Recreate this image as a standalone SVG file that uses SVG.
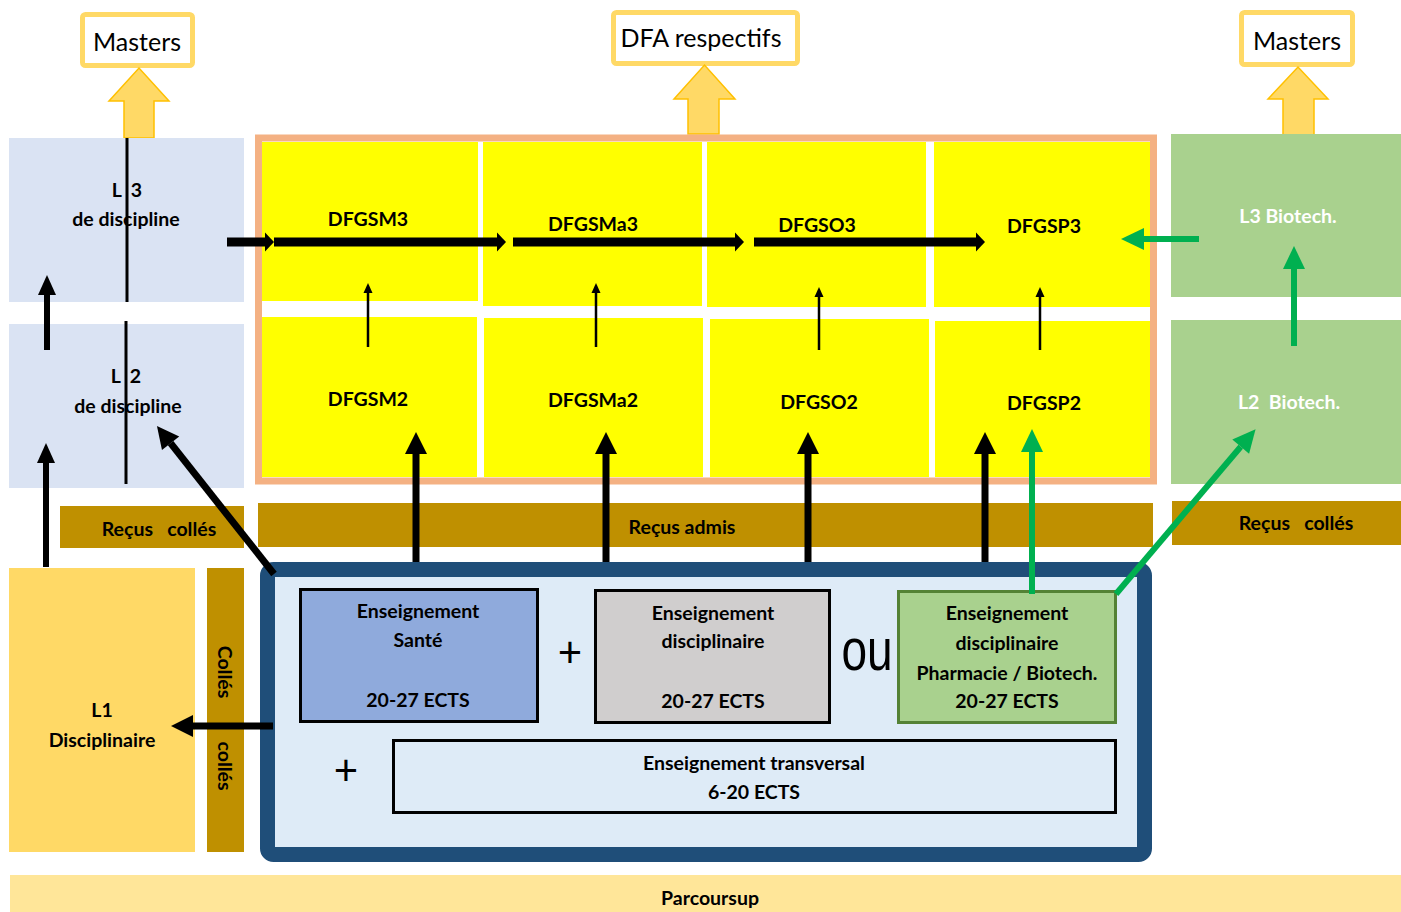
<svg xmlns="http://www.w3.org/2000/svg" width="1401" height="912" viewBox="0 0 1401 912">
<style>
text{font-family:Lato,"Liberation Sans",sans-serif;fill:#000;text-anchor:middle}
.b{font-weight:bold;font-size:19.5px}
.r{font-size:25px}
.w{fill:#fff}
.pre{white-space:pre}
.lb{fill:#DAE3F3}
.rc{fill:#BF9000}
.yl{fill:#FFFF00}
.gb{fill:#A9D18E}
.ms{fill:#fff;stroke:#FFD966;stroke-width:5}
.ya{fill:#FFD966;stroke:#FFC000;stroke-width:1.5}
.k{stroke:#000;fill:none}
.g{stroke:#00B050;fill:none}
</style>
<defs>
<marker id="mBig" markerUnits="userSpaceOnUse" markerWidth="22" markerHeight="22" refX="0" refY="11" orient="auto" overflow="visible"><path d="M0,0 L22,11 L0,22 z" fill="#000"/></marker>
<marker id="mBigG" markerUnits="userSpaceOnUse" markerWidth="23" markerHeight="22" refX="0" refY="11" orient="auto" overflow="visible"><path d="M0,0 L23,11 L0,22 z" fill="#00B050"/></marker>
<marker id="mMid" markerUnits="userSpaceOnUse" markerWidth="9" markerHeight="19" refX="0" refY="9.5" orient="auto" overflow="visible"><path d="M0,0 L9,9.5 L0,19 z" fill="#000"/></marker>
<marker id="mThin" markerUnits="userSpaceOnUse" markerWidth="10" markerHeight="9" refX="0" refY="4.5" orient="auto" overflow="visible"><path d="M0,0 L10,4.5 L0,9 z" fill="#000"/></marker>
<marker id="mSm" markerUnits="userSpaceOnUse" markerWidth="20" markerHeight="18" refX="0" refY="9" orient="auto" overflow="visible"><path d="M0,0 L20,9 L0,18 z" fill="#000"/></marker>
</defs>

<g id="parcoursup"><rect x="10" y="875" width="1391" height="37" fill="#FFE699"/><text class="b" x="710" y="905">Parcoursup</text></g>

<g id="masters-left"><rect class="ms" x="82.5" y="14.5" width="110" height="51" rx="3"/><text class="r" x="137" y="51">Masters</text>
<path class="ya" d="M124,138 V101 H109 L139,68 L169,101 H154 V138 Z"/></g>
<g id="dfa"><rect class="ms" x="613.5" y="12.5" width="184" height="51" rx="3"/><text class="r" x="701" y="47">DFA respectifs</text>
<path class="ya" d="M688,134 V99 H674 L704.5,65 L735,99 H719 V134 Z"/></g>
<g id="masters-right"><rect class="ms" x="1241.5" y="12.5" width="111" height="52" rx="3"/><text class="r" x="1297" y="50">Masters</text>
<path class="ya" d="M1283,136 V99 H1268 L1298,67 L1328,99 H1314 V136 Z"/></g>

<g id="l3"><rect class="lb" x="9" y="138" width="235" height="164"/><line x1="127" y1="138" x2="127" y2="302" stroke="#000" stroke-width="3"/>
<text class="b pre" x="127" y="197">L  3</text><text class="b" x="126" y="226">de discipline</text></g>
<g id="l2"><rect class="lb" x="9" y="324" width="235" height="164"/><line x1="126" y1="321" x2="126" y2="484" stroke="#000" stroke-width="3"/>
<text class="b pre" x="126" y="383">L  2</text><text class="b" x="128" y="413">de discipline</text></g>
<g id="recus-colles-left"><rect class="rc" x="60" y="506" width="184" height="42"/><text class="b pre" x="159" y="536">Reçus   collés</text></g>
<g id="l1"><rect x="9" y="568" width="186" height="284" fill="#FFD966"/><text class="b" x="102" y="717">L1</text><text class="b" x="102" y="747">Disciplinaire</text></g>
<g id="colles"><rect class="rc" x="207" y="568" width="37" height="284"/>
<text class="b" transform="translate(225,672) rotate(90)" y="7">Collés</text>
<text class="b" transform="translate(225,766) rotate(90)" y="7">collés</text></g>

<g id="frame"><rect x="258.5" y="138" width="895" height="343" fill="#fff" stroke="#F4B183" stroke-width="7"/></g>
<g id="dfgsm3"><rect class="yl" x="262" y="142" width="216" height="159"/><text class="b" x="368" y="226">DFGSM3</text></g>
<g id="dfgsma3"><rect class="yl" x="483" y="142" width="219" height="164"/><text class="b" x="593" y="231">DFGSMa3</text></g>
<g id="dfgso3"><rect class="yl" x="707" y="142" width="219" height="165"/><text class="b" x="817" y="232">DFGSO3</text></g>
<g id="dfgsp3"><rect class="yl" x="934" y="142" width="216" height="165"/><text class="b" x="1044" y="233">DFGSP3</text></g>
<g id="dfgsm2"><rect class="yl" x="262" y="317" width="215" height="160"/><text class="b" x="368" y="406">DFGSM2</text></g>
<g id="dfgsma2"><rect class="yl" x="484" y="318" width="219" height="159"/><text class="b" x="593" y="407">DFGSMa2</text></g>
<g id="dfgso2"><rect class="yl" x="710" y="319" width="219" height="158"/><text class="b" x="819" y="409">DFGSO2</text></g>
<g id="dfgsp2"><rect class="yl" x="935" y="321" width="215" height="156"/><text class="b" x="1044" y="410">DFGSP2</text></g>

<g id="recus-admis"><rect class="rc" x="258" y="503" width="895" height="44"/><text class="b" x="682" y="534">Reçus admis</text></g>

<g id="l3-biotech"><rect class="gb" x="1171" y="134" width="230" height="163"/><text class="b w" x="1288" y="223">L3 Biotech.</text></g>
<g id="l2-biotech"><rect class="gb" x="1171" y="320" width="230" height="164"/><text class="b w pre" x="1289" y="409">L2  Biotech.</text></g>
<g id="recus-colles-right"><rect class="rc" x="1172" y="501" width="229" height="44"/><text class="b pre" x="1296" y="530">Reçus   collés</text></g>

<g id="semester"><rect x="267.5" y="569.5" width="877" height="285" rx="6" fill="#DEEBF7" stroke="#1F4E79" stroke-width="15"/>
<text x="570" y="667" style="font-size:42px">+</text>
<text x="346" y="785" style="font-size:42px">+</text>
<text x="867" y="670" style="font-size:46px;font-family:'Liberation Sans',sans-serif" transform="translate(867,670) scale(1,1.3) translate(-867,-670)">ou</text></g>
<g id="sante"><rect x="300.5" y="589.5" width="237" height="132" fill="#8FAADC" stroke="#000" stroke-width="3"/>
<text class="b" x="418" y="618">Enseignement</text><text class="b" x="418" y="647">Santé</text><text class="b" x="418" y="707">20-27 ECTS</text></g>
<g id="disciplinaire"><rect x="595.5" y="590.5" width="234" height="132" fill="#D0CECE" stroke="#000" stroke-width="3"/>
<text class="b" x="713" y="620">Enseignement</text><text class="b" x="713" y="648">disciplinaire</text><text class="b" x="713" y="708">20-27 ECTS</text></g>
<g id="pharmacie"><rect x="898.5" y="591.5" width="217" height="131" fill="#A9D18E" stroke="#548235" stroke-width="3"/>
<text class="b" x="1007" y="620">Enseignement</text><text class="b" x="1007" y="650">disciplinaire</text><text class="b" x="1007" y="680">Pharmacie / Biotech.</text><text class="b" x="1007" y="708">20-27 ECTS</text></g>
<g id="transversal"><rect x="393.5" y="740.5" width="722" height="72" fill="#DEEBF7" stroke="#000" stroke-width="3"/>
<text class="b" x="754" y="770">Enseignement transversal</text><text class="b" x="754" y="799">6-20 ECTS</text></g>

<g id="connectors">
<line class="k" x1="47" y1="350" x2="47" y2="295" stroke-width="6" marker-end="url(#mSm)"/>
<line class="k" x1="46" y1="567" x2="46" y2="463" stroke-width="6" marker-end="url(#mSm)"/>
<line class="k" x1="274" y1="574" x2="170.6" y2="443.2" stroke-width="7" marker-end="url(#mBig)"/>
<line class="k" x1="273" y1="726" x2="193" y2="726" stroke-width="7" marker-end="url(#mBig)"/>
<line class="k" x1="227" y1="242" x2="265" y2="242" stroke-width="9" marker-end="url(#mMid)"/>
<line class="k" x1="274" y1="242" x2="497" y2="242" stroke-width="9" marker-end="url(#mMid)"/>
<line class="k" x1="513" y1="242" x2="735" y2="242" stroke-width="9" marker-end="url(#mMid)"/>
<line class="k" x1="754" y1="242" x2="976" y2="242" stroke-width="9" marker-end="url(#mMid)"/>
<line class="k" x1="368" y1="347" x2="368" y2="293" stroke-width="2.5" marker-end="url(#mThin)"/>
<line class="k" x1="596" y1="347" x2="596" y2="293" stroke-width="2.5" marker-end="url(#mThin)"/>
<line class="k" x1="819" y1="350" x2="819" y2="297" stroke-width="2.5" marker-end="url(#mThin)"/>
<line class="k" x1="1040" y1="350" x2="1040" y2="297" stroke-width="2.5" marker-end="url(#mThin)"/>
<line class="k" x1="416" y1="562" x2="416" y2="454" stroke-width="7" marker-end="url(#mBig)"/>
<line class="k" x1="606" y1="562" x2="606" y2="454" stroke-width="7" marker-end="url(#mBig)"/>
<line class="k" x1="808" y1="562" x2="808" y2="454" stroke-width="7" marker-end="url(#mBig)"/>
<line class="k" x1="985" y1="562" x2="985" y2="454" stroke-width="7" marker-end="url(#mBig)"/>
<line class="g" x1="1032" y1="594" x2="1032" y2="452" stroke-width="6" marker-end="url(#mBigG)"/>
<line class="g" x1="1116" y1="594" x2="1240.7" y2="446.7" stroke-width="6" marker-end="url(#mBigG)"/>
<line class="g" x1="1199" y1="239" x2="1144" y2="239" stroke-width="6" marker-end="url(#mBigG)"/>
<line class="g" x1="1294" y1="346" x2="1294" y2="269" stroke-width="6" marker-end="url(#mBigG)"/>
</g>
</svg>
